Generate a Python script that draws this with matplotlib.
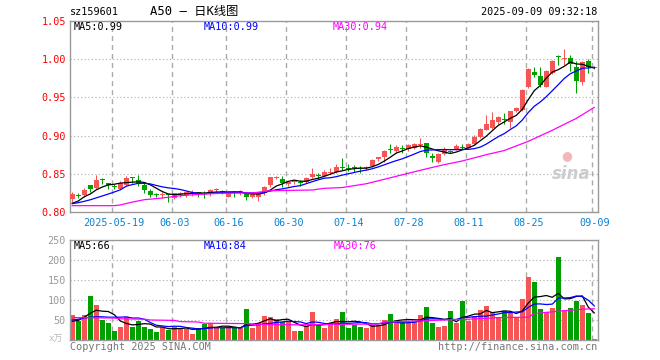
import numpy as np
import pandas as pd
import matplotlib
matplotlib.use('Agg')
import matplotlib.pyplot as plt

# daily candles, 2025-05-08 .. 2025-09-09 (bar index 0..87)
opens = [0.8170, 0.8218, 0.8218, 0.8354, 0.8310, 0.8423, 0.8376, 0.8336, 0.8306, 0.8354,
         0.8450, 0.8419, 0.8354, 0.8280, 0.8228, 0.8223, 0.8226, 0.8179, 0.8240, 0.8223,
         0.8249, 0.8250, 0.8240, 0.8236, 0.8284, 0.8266, 0.8200, 0.8249, 0.8245, 0.8245,
         0.8192, 0.8192, 0.8245, 0.8354, 0.8450, 0.8428, 0.8367, 0.8393, 0.8393, 0.8397,
         0.8454, 0.8485, 0.8476, 0.8511, 0.8520, 0.8589, 0.8576, 0.8585, 0.8568, 0.8572,
         0.8607, 0.8690, 0.8716, 0.8816, 0.8803, 0.8829, 0.8825, 0.8842, 0.8882, 0.8900,
         0.8738, 0.8659, 0.8755, 0.8794, 0.8821, 0.8846, 0.8842, 0.8886, 0.8982, 0.9079,
         0.9105, 0.9180, 0.9215, 0.9180, 0.9320, 0.9329, 0.9632, 0.9838, 0.9780, 0.9640,
         0.9816, 1.0037, 1.0007, 1.0013, 0.9904, 0.9706, 0.9978, 0.9882]
highs = [0.8266, 0.8245, 0.8319, 0.8354, 0.8489, 0.8450, 0.8376, 0.8362, 0.8402, 0.8472,
         0.8463, 0.8489, 0.8376, 0.8297, 0.8253, 0.8266, 0.8231, 0.8253, 0.8266, 0.8271,
         0.8288, 0.8266, 0.8275, 0.8301, 0.8310, 0.8288, 0.8253, 0.8275, 0.8288, 0.8253,
         0.8253, 0.8253, 0.8341, 0.8463, 0.8472, 0.8472, 0.8406, 0.8415, 0.8419, 0.8463,
         0.8580, 0.8515, 0.8546, 0.8580, 0.8629, 0.8703, 0.8624, 0.8616, 0.8607, 0.8607,
         0.8694, 0.8724, 0.8812, 0.8887, 0.8877, 0.8882, 0.8886, 0.8900, 0.8965, 0.8900,
         0.8768, 0.8768, 0.8847, 0.8812, 0.8890, 0.8890, 0.8899, 0.9004, 0.9105, 0.9268,
         0.9311, 0.9254, 0.9290, 0.9325, 0.9368, 0.9605, 0.9880, 0.9895, 0.9903, 0.9855,
         0.9995, 1.0057, 1.0132, 1.0057, 0.9970, 0.9978, 1.0000, 0.9895]
lows = [0.8135, 0.8179, 0.8201, 0.8266, 0.8301, 0.8367, 0.8306, 0.8301, 0.8297, 0.8345,
        0.8376, 0.8345, 0.8245, 0.8201, 0.8192, 0.8179, 0.8135, 0.8166, 0.8201, 0.8201,
        0.8214, 0.8200, 0.8179, 0.8214, 0.8253, 0.8236, 0.8192, 0.8200, 0.8223, 0.8157,
        0.8179, 0.8144, 0.8223, 0.8332, 0.8437, 0.8332, 0.8345, 0.8367, 0.8340, 0.8384,
        0.8445, 0.8441, 0.8463, 0.8498, 0.8507, 0.8554, 0.8533, 0.8520, 0.8515, 0.8554,
        0.8594, 0.8672, 0.8659, 0.8777, 0.8777, 0.8768, 0.8795, 0.8825, 0.8834, 0.8724,
        0.8659, 0.8645, 0.8742, 0.8768, 0.8812, 0.8821, 0.8834, 0.8873, 0.8974, 0.9070,
        0.9092, 0.9158, 0.9158, 0.9105, 0.9315, 0.9320, 0.9618, 0.9772, 0.9640, 0.9630,
        0.9803, 0.9925, 0.9925, 0.9851, 0.9561, 0.9662, 0.9825, 0.9870]
closes = [0.8231, 0.8212, 0.8288, 0.8301, 0.8419, 0.8415, 0.8350, 0.8332, 0.8376, 0.8450,
          0.8445, 0.8376, 0.8288, 0.8223, 0.8223, 0.8228, 0.8218, 0.8245, 0.8249, 0.8258,
          0.8253, 0.8245, 0.8236, 0.8284, 0.8288, 0.8258, 0.8245, 0.8245, 0.8271, 0.8192,
          0.8236, 0.8231, 0.8323, 0.8455, 0.8455, 0.8376, 0.8397, 0.8402, 0.8384, 0.8450,
          0.8498, 0.8476, 0.8528, 0.8520, 0.8594, 0.8580, 0.8568, 0.8576, 0.8559, 0.8581,
          0.8681, 0.8716, 0.8799, 0.8807, 0.8855, 0.8821, 0.8873, 0.8890, 0.8890, 0.8768,
          0.8703, 0.8755, 0.8812, 0.8790, 0.8865, 0.8842, 0.8886, 0.8982, 0.9092, 0.9158,
          0.9202, 0.9237, 0.9206, 0.9325, 0.9355, 0.9596, 0.9873, 0.9794, 0.9662, 0.9846,
          0.9982, 1.0033, 1.0015, 0.9939, 0.9719, 0.9960, 0.9904, 0.9895]
# volume, 10k shares
volumes = [63, 47, 63, 111, 88, 51, 43, 23, 33, 57, 33, 48, 33, 28, 21, 33, 26, 33, 30, 28,
           16, 30, 41, 42, 30, 30, 30, 30, 30, 77, 30, 42, 60, 57, 52, 45, 45, 22, 22, 35,
           70, 35, 30, 42, 53, 71, 31, 38, 33, 31, 38, 38, 51, 66, 48, 48, 43, 48, 63, 83,
           43, 33, 36, 73, 43, 98, 48, 61, 76, 86, 71, 58, 73, 71, 58, 103, 158, 146, 78, 71,
           81, 208, 76, 81, 98, 88, 68, 3]

# moving averages where the window reaches before the first bar
ma5_head = [0.8114, 0.8144, 0.8200, 0.8236]
ma10_head = [0.8109, 0.8122, 0.8140, 0.8160, 0.8185, 0.8210, 0.8235, 0.8262, 0.8290]
ma30_idx = [0, 7, 8, 10, 12, 15, 18, 22, 25, 30, 33, 40, 42, 45, 49, 52, 56, 59, 62, 65,
            69, 72, 76, 80, 84, 87]
ma30_val = [0.8083, 0.8083, 0.8092, 0.8130, 0.8161, 0.8183, 0.8213, 0.8236, 0.8245, 0.8249,
            0.8279, 0.8288, 0.8310, 0.8320, 0.8370, 0.8428, 0.8507, 0.8565, 0.8620, 0.8668,
            0.8750, 0.8805, 0.8925, 0.9070, 0.9225, 0.9370]
vma5_head = [47, 49, 57, 67]
vma10_head = [50, 52, 55, 57, 58, 58, 57, 57, 57]
vma30_idx = [0, 7, 8, 12, 13, 17, 18, 21, 22, 29, 30, 38, 43, 51, 52, 59, 60, 66, 71, 76,
             77, 81, 85, 87]
vma30_val = [56, 55, 53, 52, 50, 49, 46, 45, 42, 41, 39, 38, 39, 40, 45, 48, 49, 52, 56, 57,
             66, 72, 77, 78]

tick_idx = [7, 17, 26, 36, 46, 56, 66, 76, 87]
tick_labels = ['2025-05-19', '06-03', '06-16', '06-30', '07-14', '07-28', '08-11', '08-25', '09-09']
price_ticks = [0.80, 0.85, 0.90, 0.95, 1.00, 1.05]
vol_ticks = [50, 100, 150, 200, 250]

RED = '#f65555'
GREEN = '#00a000'
GRID = '#aaaaaa'
MONO = ['DejaVu Sans Mono', 'Noto Sans CJK SC']

plt.rcParams['font.family'] = MONO

n = len(closes)
x = np.arange(n)
o = np.array(opens); h = np.array(highs); l = np.array(lows); c = np.array(closes)
up = c >= o
colors = np.where(up, RED, GREEN)

cs = pd.Series(closes)
ma5 = np.concatenate([ma5_head, cs.rolling(5).mean().values[4:]])
ma10 = np.concatenate([ma10_head, cs.rolling(10).mean().values[9:]])
vs = pd.Series(volumes, dtype=float)
vma5 = np.concatenate([vma5_head, vs.rolling(5).mean().values[4:]])
vma10 = np.concatenate([vma10_head, vs.rolling(10).mean().values[9:]])

W, H = 660, 360
fig = plt.figure(figsize=(6.6, 3.6), dpi=100)
fig.patch.set_facecolor('white')

def px_axes(x0, y0, x1, y1):
    return fig.add_axes([x0 / W, 1 - y1 / H, (x1 - x0) / W, (y1 - y0) / H])

ax1 = px_axes(70, 21, 598, 212)
ax2 = px_axes(70, 240, 598, 340)
xl = (-0.383, 87.617)

for ax in (ax1, ax2):
    ax.set_xlim(*xl)
    for s in ax.spines.values():
        s.set_color('#999999')
        s.set_linewidth(1.0)
    for t in tick_idx:
        ax.axvline(t - 0.33, color=GRID, lw=1.0, ls=(0, (3.6, 2.9)), zorder=0)
    ax.tick_params(length=0)

# ---- price panel
ax1.set_ylim(0.80, 1.05)
for p in price_ticks[1:-1]:
    ax1.axhline(p, color=GRID, lw=0.8, ls=(0, (1, 2.2)), zorder=0)
ax1.vlines(x, l, h, colors=colors, lw=0.75, zorder=2)
body_h = np.maximum(np.abs(c - o), 0.0012)
ax1.bar(x, body_h, bottom=np.minimum(o, c), width=0.82, color=colors, linewidth=0, zorder=3)
ax1.plot(x, ma5, color='black', lw=0.9, zorder=4)
ax1.plot(x, ma10, color='#0000ff', lw=0.9, zorder=4)
ax1.plot(ma30_idx, ma30_val, color='#ff00ff', lw=0.9, zorder=4)
ax1.set_yticks(price_ticks)
ax1.set_yticklabels(['%.2f' % p for p in price_ticks], color='#ff0000', fontsize=7.3)
ax1.tick_params(axis='y', pad=3)
ax1.set_xticks(tick_idx)
ax1.set_xticklabels(tick_labels, color='#0a82d2', fontsize=7.3)
ax1.tick_params(axis='x', pad=4)

# ---- volume panel
ax2.set_ylim(0, 250)
for v in vol_ticks[:-1]:
    ax2.axhline(v, color=GRID, lw=0.8, ls=(0, (1, 2.2)), zorder=0)
ax2.bar(x, volumes, width=0.82, color=colors, linewidth=0, zorder=2)
ax2.plot(x, vma5, color='black', lw=0.9, zorder=4)
ax2.plot(x, vma10, color='#0000ff', lw=0.9, zorder=4)
ax2.plot(vma30_idx, vma30_val, color='#ff00ff', lw=0.9, zorder=4)
ax2.set_yticks(vol_ticks)
ax2.set_yticklabels([str(v) for v in vol_ticks], color='#999999', fontsize=7.3)
ax2.tick_params(axis='y', pad=3)
ax2.set_xticks([])

def ftext(px, py, s, **kw):
    kw.setdefault('fontsize', 7.3)
    kw.setdefault('va', 'center')
    fig.text(px / W, 1 - py / H, s, **kw)

# header
ftext(70, 12, 'sz159601', color='black')
ftext(150, 12, 'A50 — 日K线图', color='black', fontsize=8.8,
      family=['DejaVu Sans Mono', 'Noto Sans CJK SC'])
ftext(597, 12, '2025-09-09 09:32:18', color='black', ha='right')

# MA legends
ftext(74, 27, 'MA5:0.99', color='black')
ftext(204, 27, 'MA10:0.99', color='#0000ff')
ftext(333, 27, 'MA30:0.94', color='#ff00ff')
ftext(74, 246, 'MA5:66', color='black')
ftext(204, 246, 'MA10:84', color='#0000ff')
ftext(334, 246, 'MA30:76', color='#ff00ff')

ftext(49, 339, 'x万', color='#bbbbbb', fontsize=6.5)
ftext(70, 347, 'Copyright 2025 SINA.COM', color='#777777')
ftext(597, 347, 'http://finance.sina.com.cn', color='#777777', ha='right')

# watermark
ftext(571, 174, 'sina', color='#cccccc', fontsize=12, style='italic', weight='bold',
      ha='center', family='DejaVu Sans')
ftext(567, 156, '●', color='#f2b8b8', fontsize=9, ha='center', family='DejaVu Sans')

fig.savefig('out.png', dpi=100, facecolor='white')
